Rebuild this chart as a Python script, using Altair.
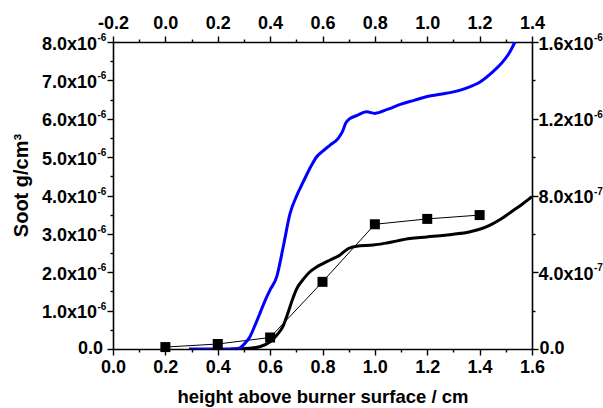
import altair as alt
import pandas as pd

# ---- data (heights in cm, soot in g/cm^3) ----
exp_x = [0.2, 0.4, 0.6, 0.8, 1.0, 1.2, 1.4]
exp_y = [0.05e-6, 0.13e-6, 0.30e-6, 1.75e-6, 3.25e-6, 3.39e-6, 3.49e-6]

black_x = [0.45, 0.48, 0.52, 0.56, 0.60, 0.625, 0.65, 0.663, 0.689, 0.70, 0.727,
           0.75, 0.778, 0.80, 0.829, 0.867, 0.899, 0.93, 0.994, 1.05, 1.134,
           1.198, 1.30, 1.36, 1.40, 1.44, 1.48, 1.52, 1.56, 1.60]
black_y = [0.0, 0.0, 0.02, 0.06, 0.19, 0.36, 0.60, 0.84, 1.36, 1.55, 1.82,
           2.00, 2.14, 2.22, 2.32, 2.45, 2.62, 2.68, 2.71, 2.77, 2.88,
           2.92, 2.99, 3.05, 3.12, 3.23, 3.38, 3.57, 3.76, 3.97]
black_y = [v * 1e-6 for v in black_y]

blue_x = [0.29, 0.35, 0.40, 0.45, 0.47, 0.485, 0.50, 0.523, 0.54, 0.561, 0.58,
          0.60, 0.625, 0.65, 0.676, 0.70, 0.714, 0.733, 0.755, 0.778, 0.80,
          0.83, 0.86, 0.875, 0.89, 0.90, 0.93, 0.969, 1.0, 1.05, 1.10, 1.15,
          1.20, 1.25, 1.30, 1.35, 1.40, 1.45, 1.48, 1.51, 1.535]
blue_y = [0.0, 0.0, 0.0, 0.0, 0.005, 0.03, 0.12, 0.32, 0.58, 0.93, 1.25,
          1.54, 1.88, 2.66, 3.53, 3.97, 4.18, 4.45, 4.75, 5.01, 5.15,
          5.32, 5.49, 5.65, 5.90, 5.98, 6.08, 6.18, 6.14, 6.25, 6.38, 6.48,
          6.58, 6.64, 6.70, 6.80, 6.95, 7.22, 7.42, 7.68, 8.0]
blue_y = [v * 1e-6 for v in blue_y]

# axis tick values and labels
bottom_major = [0.0, 0.2, 0.4, 0.6, 0.8, 1.0, 1.2, 1.4, 1.6]
bottom_minor = [0.1, 0.3, 0.5, 0.7, 0.9, 1.1, 1.3, 1.5]
top_major = [-0.2, 0.0, 0.2, 0.4, 0.6, 0.8, 1.0, 1.2, 1.4]
top_minor = [-0.1, 0.1, 0.3, 0.5, 0.7, 0.9, 1.1, 1.3]
left_major = [0.0, 1e-6, 2e-6, 3e-6, 4e-6, 5e-6, 6e-6, 7e-6, 8e-6]
left_minor = [0.5e-6, 1.5e-6, 2.5e-6, 3.5e-6, 4.5e-6, 5.5e-6, 6.5e-6, 7.5e-6]
left_base = ["1.0x10", "2.0x10", "3.0x10", "4.0x10", "5.0x10", "6.0x10", "7.0x10", "8.0x10"]
left_sup = ["-6", "-6", "-6", "-6", "-6", "-6", "-6", "-6"]
right_major = [0.0, 4e-7, 8e-7, 1.2e-6, 1.6e-6]
right_minor = [2e-7, 6e-7, 1.0e-6, 1.4e-6]
right_base = ["4.0x10", "8.0x10", "1.2x10", "1.6x10"]
right_sup = ["-7", "-7", "-6", "-6"]

FONT = "Liberation Sans"
LS = 18
SUP = 10

X_DOM = [0, 1.6]
TOP_DOM = [-0.2, 1.4]
Y_DOM = [0, 8e-6]
R_DOM = [0, 1.6e-6]

exp_df = pd.DataFrame({"h": exp_x, "soot": exp_y})
black_df = pd.DataFrame({"h": black_x, "soot": black_y})
blue_df = pd.DataFrame({"h": blue_x, "soot": blue_y})

common_axis = dict(
    labelFont=FONT, labelFontSize=LS, labelFontWeight="bold", labelColor="black",
    titleFont=FONT, titleFontWeight="bold", titleColor="black",
    domainColor="black", domainWidth=1.6, tickColor="black", tickWidth=1.4,
    grid=False, labelOverlap=False, labelFlush=False,
)

x_axis = alt.Axis(
    orient="bottom", values=bottom_major, title="height above burner surface / cm",
    format=".1f", tickSize=6, labelPadding=3, titleFontSize=18.5,
    titleX=209.5, titleY=53.5, titleBaseline="alphabetic", titleAlign="center",
    **common_axis,
)
y_axis = alt.Axis(
    orient="left", values=left_major, title="Soot g/cm³", tickSize=6, labels=False,
    titleFontSize=20,
    titleX=-85.5, titleY=143, titleBaseline="alphabetic", titleAlign="center", titleAngle=-90,
    **common_axis,
)

X = alt.X("h:Q", scale=alt.Scale(domain=X_DOM, nice=False), axis=x_axis)
Y = alt.Y("soot:Q", scale=alt.Scale(domain=Y_DOM, nice=False), axis=y_axis)

txt = dict(font=FONT, fontWeight="bold", color="black", baseline="alphabetic")

exp_line = alt.Chart(exp_df).mark_line(color="black", strokeWidth=1, clip=True).encode(x=X, y=Y)
exp_pts = alt.Chart(exp_df).mark_square(color="black", size=100, opacity=1).encode(x=X, y=Y)
black_line = alt.Chart(black_df).mark_line(color="black", strokeWidth=3, interpolate="monotone", clip=True).encode(x=X, y=Y)
blue_line = alt.Chart(blue_df).mark_line(color="#0000FF", strokeWidth=3, interpolate="monotone", clip=True).encode(x=X, y=Y)

# left tick labels (base + superscript exponent)
left_lab_df = pd.DataFrame({"soot": left_major[1:], "base": left_base, "sup": left_sup})
left_zero_df = pd.DataFrame({"soot": [0.0], "base": ["0.0"]})
left_base_txt = alt.Chart(left_lab_df).mark_text(align="right", dy=7.5, fontSize=LS, **txt).encode(
    x=alt.value(-16), y=Y, text="base:N")
left_sup_txt = alt.Chart(left_lab_df).mark_text(align="left", dy=-1, fontSize=SUP, **txt).encode(
    x=alt.value(-15.5), y=Y, text="sup:N")
left_zero_txt = alt.Chart(left_zero_df).mark_text(align="right", dy=4.5, fontSize=LS, **txt).encode(
    x=alt.value(-10), y=Y, text="base:N")

data_layer = alt.layer(exp_line, black_line, blue_line, exp_pts,
                       left_base_txt, left_sup_txt, left_zero_txt)


def axis_layer(channel, values, domain, orient, major, label_expr=None, pad=3):
    df = pd.DataFrame({"v": values})
    kw = dict(common_axis)
    kw.update(orient=orient, values=values, title=None,
              tickSize=6 if major else 3, domain=major, labels=bool(label_expr),
              labelPadding=pad)
    if label_expr:
        kw["labelExpr"] = label_expr
    ax = alt.Axis(**kw)
    scale = alt.Scale(domain=domain, nice=False)
    if channel == "x":
        enc = dict(x=alt.X("v:Q", scale=scale, axis=ax))
    else:
        enc = dict(y=alt.Y("v:Q", scale=scale, axis=ax))
    return alt.Chart(df).mark_point(opacity=0).encode(**enc), enc


top_expr = "datum.value < 0 ? '-' + format(-datum.value, '.1f') : format(datum.value, '.1f')"

right_major_layer, right_enc = axis_layer("y", right_major, R_DOM, "right", True)
RY = right_enc["y"]
right_lab_df = pd.DataFrame({"v": right_major[1:], "base": right_base, "sup": right_sup})
right_zero_df = pd.DataFrame({"v": [0.0], "base": ["0.0"]})
right_base_txt = alt.Chart(right_lab_df).mark_text(align="left", dy=7.5, fontSize=LS, **txt).encode(
    x=alt.value(425.5), y=RY, text="base:N")
right_sup_txt = alt.Chart(right_lab_df).mark_text(align="left", dy=-1, fontSize=SUP, **txt).encode(
    x=alt.value(481), y=RY, text="sup:N")
right_zero_txt = alt.Chart(right_zero_df).mark_text(align="left", dy=4.5, fontSize=LS, **txt).encode(
    x=alt.value(426.5), y=RY, text="base:N")
right_layer = alt.layer(right_major_layer, right_base_txt, right_sup_txt, right_zero_txt)

layers = [
    data_layer,
    axis_layer("x", bottom_minor, X_DOM, "bottom", False)[0],
    axis_layer("y", left_minor, Y_DOM, "left", False)[0],
    axis_layer("x", top_major, TOP_DOM, "top", True, label_expr=top_expr, pad=4)[0],
    axis_layer("x", top_minor, TOP_DOM, "top", False)[0],
    right_layer,
    axis_layer("y", right_minor, R_DOM, "right", False)[0],
]

chart = alt.layer(*layers).resolve_scale(
    x="independent", y="independent"
).properties(
    width=419, height=307,
    autosize=alt.AutoSizeParams(type="none"),
    padding={"left": 113, "top": 42, "right": 71, "bottom": 59},
    background="white",
).configure_view(stroke=None)

chart.save("out.html", embed_options={"renderer": "svg", "actions": False})
